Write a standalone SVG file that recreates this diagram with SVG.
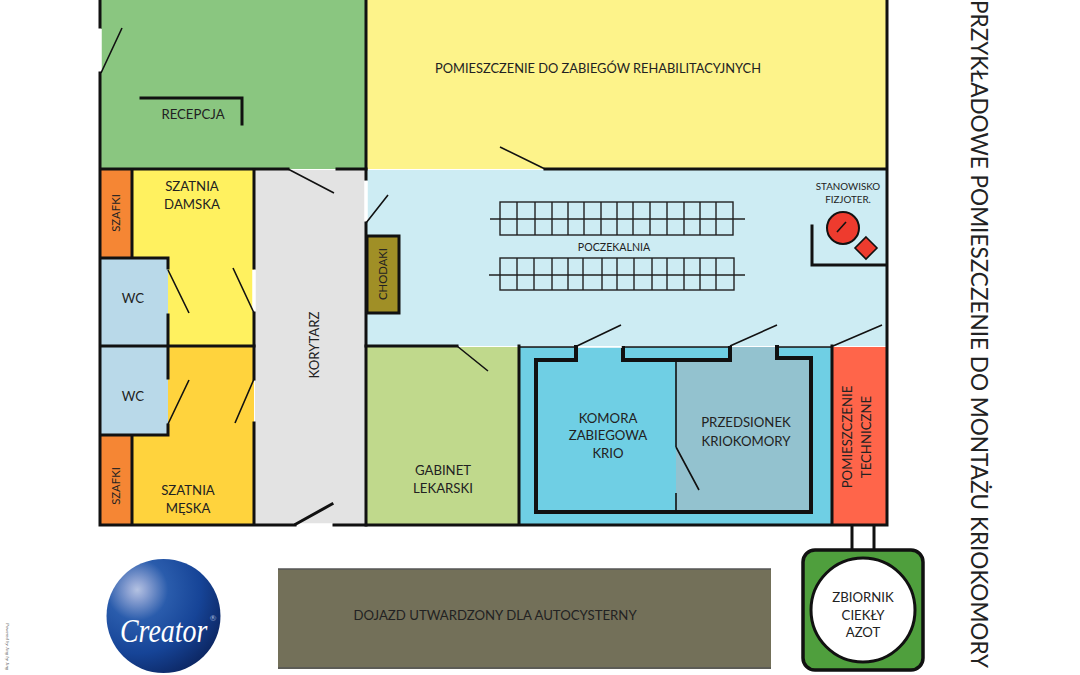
<svg xmlns="http://www.w3.org/2000/svg" width="1080" height="675" viewBox="0 0 1080 675">
<defs>
<radialGradient id="ball" cx="0.27" cy="0.27" r="0.9">
<stop offset="0" stop-color="#b4c2e2"/><stop offset="0.09" stop-color="#8ea3d3"/><stop offset="0.3" stop-color="#2a5cac"/><stop offset="0.62" stop-color="#164497"/><stop offset="1" stop-color="#0a1f55"/>
</radialGradient>
</defs>
<style>
text{font-family:"Lato","Open Sans","Liberation Sans",sans-serif;fill:#222;text-anchor:middle}
.t{font-size:13.2px}
.s{font-size:11.3px}
.p{font-size:10.6px}
.x{font-size:9.8px}
.w{fill:none;stroke:#111;stroke-width:3;stroke-linecap:square}
.k{fill:none;stroke:#111;stroke-width:4;stroke-linecap:square}
.n{fill:none;stroke:#111;stroke-width:1.6}
.d{fill:none;stroke:#111;stroke-width:1.6}
.b{fill:none;stroke:#222;stroke-width:1.4}
</style>
<rect width="1080" height="675" fill="#fff"/>
<g id="recepcja"><rect x="101" y="0" width="265" height="169" fill="#8ac680"/><text class="t" x="193" y="118.500">RECEPCJA</text></g>
<g id="rehabilitacja"><rect x="367" y="0" width="519" height="169" fill="#fdf38a"/><text class="t" x="598" y="73" textLength="326" lengthAdjust="spacingAndGlyphs">POMIESZCZENIE DO ZABIEGÓW REHABILITACYJNYCH</text></g>
<g id="szafki-d"><rect x="101" y="170" width="31" height="88" fill="#f58634"/><text class="s" transform="translate(120,213) rotate(-90)">SZAFKI</text></g>
<g id="szatnia-damska"><path d="M132 170H254V346H168V258H132Z" fill="#fff15f"/><text class="t" x="192" y="191">SZATNIA</text><text class="t" x="192" y="209">DAMSKA</text></g>
<g id="wc1"><rect x="101" y="258" width="67" height="88" fill="#b9d9e9"/><text class="t" x="133" y="302.500">WC</text></g>
<g id="wc2"><rect x="101" y="347" width="67" height="88" fill="#b9d9e9"/><text class="t" x="133" y="401">WC</text></g>
<g id="szafki-m"><rect x="101" y="436" width="31" height="88" fill="#f58634"/><text class="s" transform="translate(120,486) rotate(-90)">SZAFKI</text></g>
<g id="szatnia-meska"><path d="M168 347H254V524H132V435H168Z" fill="#ffd33d"/><text class="t" x="188" y="495">SZATNIA</text><text class="t" x="188" y="513">MĘSKA</text></g>
<g id="korytarz"><rect x="255" y="170" width="111" height="354" fill="#e3e3e3"/><text class="t" transform="translate(319,345) rotate(-90)">KORYTARZ</text></g>
<g id="poczekalnia"><rect x="367" y="170" width="519" height="176" fill="#cdecf3"/><text class="p" x="614" y="251">POCZEKALNIA</text></g>
<g id="chodaki"><rect x="367" y="236" width="32" height="77" fill="#a08f26" stroke="#111" stroke-width="3"/><text class="s" transform="translate(387,274) rotate(-90)">CHODAKI</text></g>
<g id="gabinet"><rect x="367" y="347" width="152" height="177" fill="#c0d98c"/><text class="t" x="443" y="475">GABINET</text><text class="t" x="443" y="493">LEKARSKI</text></g>
<g id="kriokomora">
<rect x="520" y="347" width="311" height="177" fill="#6fcfe4"/>
<path d="M676 360H730V347H777V360H811V512H676Z" fill="#93c2cf"/>
<path class="k" d="M576 347V360H536V512H811V358H777V347"/>
<path class="k" d="M623 348V360H730V348"/>
<path class="n" d="M520 347H577M623 347H730M777 347H831"/>
<path d="M578 347H622" stroke="#fff" stroke-width="1.5"/>
<path class="d" d="M676 360V447M676 493V512M676 447L699 490"/>
<text class="t" x="608" y="423">KOMORA</text><text class="t" x="608" y="440">ZABIEGOWA</text><text class="t" x="608" y="458">KRIO</text>
<text class="t" x="746" y="427">PRZEDSIONEK</text><text class="t" x="746" y="446">KRIOKOMORY</text>
</g>
<g id="techniczne"><rect x="833" y="347" width="53" height="177" fill="#ff654a"/><text class="t" transform="translate(852,437) rotate(-90)">POMIESZCZENIE</text><text class="t" transform="translate(871,437) rotate(-90)">TECHNICZNE</text></g>
<g id="stanowisko">
<text class="x" x="848" y="190">STANOWISKO</text><text class="x" x="848" y="203">FIZJOTER.</text>
<path class="w" d="M812 226V265H885"/>
<circle cx="843" cy="228" r="16" fill="#ee3b2e" stroke="#111" stroke-width="2"/>
<path class="d" d="M837 232L846 222"/>
<path d="M866 237L877 248L866 259L855 248Z" fill="#ee3b2e" stroke="#111" stroke-width="1.6"/>
</g>
<g id="lawki">
<path class="b" d="M490 219H745M489 275H745"/>
<rect class="b" x="500" y="202" width="233" height="33"/>
<rect class="b" x="500" y="258" width="234" height="32"/>
<path class="b" d="M517 202v33M535 202v33M552 202v33M568 202v33M584 202v33M601 202v33M617 202v33M633 202v33M650 202v33M667 202v33M684 202v33M700 202v33M716 202v33M517 258v32M534 258v32M552 258v32M568 258v32M583 258v32M602 258v32M617 258v32M634 258v32M652 258v32M667 258v32M684 258v32M700 258v32M716 258v32"/>
</g>
<g id="connectors">
<path d="M100 29V72M254 270V312M366 181V222M297 525H333" stroke="#fff" stroke-width="3.5" fill="none"/>
<path class="w" d="M100 0V27M100 73V525H295M334 525H887V0"/>
<path class="w" d="M101 169H288M337 169H366M545 169H886"/>
<path class="w" d="M366 0V179M366 223V525"/>
<path class="w" d="M132 170V258M101 258H168V268M168 315V346M101 346H254M168 346V378M168 425V435H101M132 436V524"/>
<path class="w" d="M254 170V268M254 313V346M254 346V379M254 423V524"/>
<path class="w" d="M366 346H457M519 346V524M832 346V524"/>
<path class="w" d="M852 526V549M874 526V549"/>
<path class="w" d="M141 98H242V124"/>
<path class="d" d="M101 73L122 28M168 270L189 313M254 313L233 268M168 424L189 380M254 379L235 423M288 169L334 193M366 223L388 195M500 147L545 169M457 346L488 371M577 346L621 325M730 346L777 325M833 346L882 325"/>
<path class="w" d="M296 524L332 504"/>
</g>
<g id="droga"><rect x="278" y="569" width="493" height="100" fill="#737059"/><path d="M278 569H771M278 668H771" stroke="#555" stroke-width="1.5"/><text class="t" x="495" y="620">DOJAZD UTWARDZONY DLA AUTOCYSTERNY</text></g>
<g id="zbiornik">
<rect x="803" y="550" width="120" height="120" rx="12" fill="#4f9f3d" stroke="#111" stroke-width="3.5"/>
<circle cx="863" cy="610" r="52" fill="#fff" stroke="#111" stroke-width="3"/>
<text class="t" x="863" y="602">ZBIORNIK</text><text class="t" x="863" y="620">CIEKŁY</text><text class="t" x="863" y="637">AZOT</text>
</g>
<g id="logo">
<circle cx="163.500" cy="616" r="57" fill="url(#ball)"/>
<text transform="translate(120,642) scale(.82,1)" style="font-family:'Liberation Serif',serif;font-style:italic;font-size:34px;fill:#fff;text-anchor:start">Creator</text>
<text x="213" y="621" style="font-size:8px;fill:#9fb4d8">®</text>
</g>
<text transform="translate(971,334) rotate(90) scale(.94,1)" style="font-size:24px">PRZYKŁADOWE POMIESZCZENIE DO MONTAŻU KRIOKOMORY</text>
<text transform="translate(6,623) rotate(90)" style="font-family:'Liberation Serif',serif;font-style:italic;font-size:4.8px;fill:#555;text-anchor:start">Powered by Jing by Jing</text>
</svg>
